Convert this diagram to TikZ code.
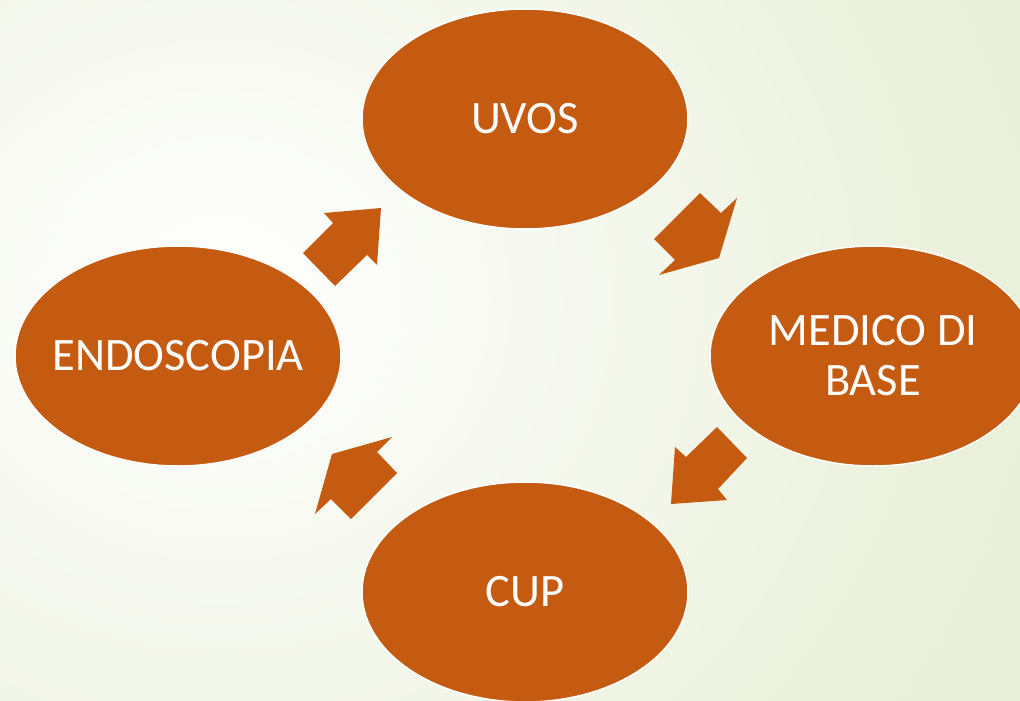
\documentclass[tikz,border=0pt]{standalone}
\usepackage{fontspec}
\setmainfont{Carlito}
\usetikzlibrary{shapes.geometric}
\definecolor{orangefill}{RGB}{197,90,17}
\definecolor{bggreen}{RGB}{233,239,216}
\newcommand{\ctrtext}[1]{\makebox[0pt]{#1}}
\tikzset{
  bubble/.style={ellipse, fill=orangefill, draw=white, line width=1.5pt,
    minimum width=326pt, minimum height=220pt, inner sep=0pt,
    text=white, align=center, font=\fontsize{46.5}{50}\selectfont},
  blockarrow/.style={fill=orangefill, draw=none}
}
\begin{document}
\begin{tikzpicture}[x=1pt,y=-1pt]
\useasboundingbox (0,0) rectangle (1020,701);
\clip (0,0) rectangle (1020,701);
\shade[inner color=white, outer color=bggreen] (-620,-450) rectangle (1060,1050);
\node[bubble] (uvos) at (525,119) {\ctrtext{UVOS}};
\node[bubble] (medico) at (873,356) {\ctrtext{MEDICO DI}\\\ctrtext{BASE}};
\node[bubble] (endo) at (178,356) {\ctrtext{ENDOSCOPIA}};
\node[bubble] (cup) at (525,592) {\ctrtext{CUP}};
% UVOS -> MEDICO
\fill[blockarrow] (700,193) -- (721,213) -- (737,198) -- (719,258) -- (659,275) -- (675,260) -- (654,239) -- cycle;
% MEDICO -> CUP
\fill[blockarrow] (717,427) -- (747,458) -- (718,489) -- (727,500) -- (671,504) -- (675,447) -- (686,457) -- cycle;
% CUP -> ENDOSCOPIA
\fill[blockarrow] (392,437) -- (377,452) -- (397,473) -- (351,519) -- (331,499) -- (315,514) -- (332,454) -- cycle;
% ENDOSCOPIA -> UVOS
\fill[blockarrow] (324,213) -- (333,223) -- (303,253) -- (335,286) -- (367,255) -- (377,265) -- (381,208) -- cycle;
\end{tikzpicture}
\end{document}
